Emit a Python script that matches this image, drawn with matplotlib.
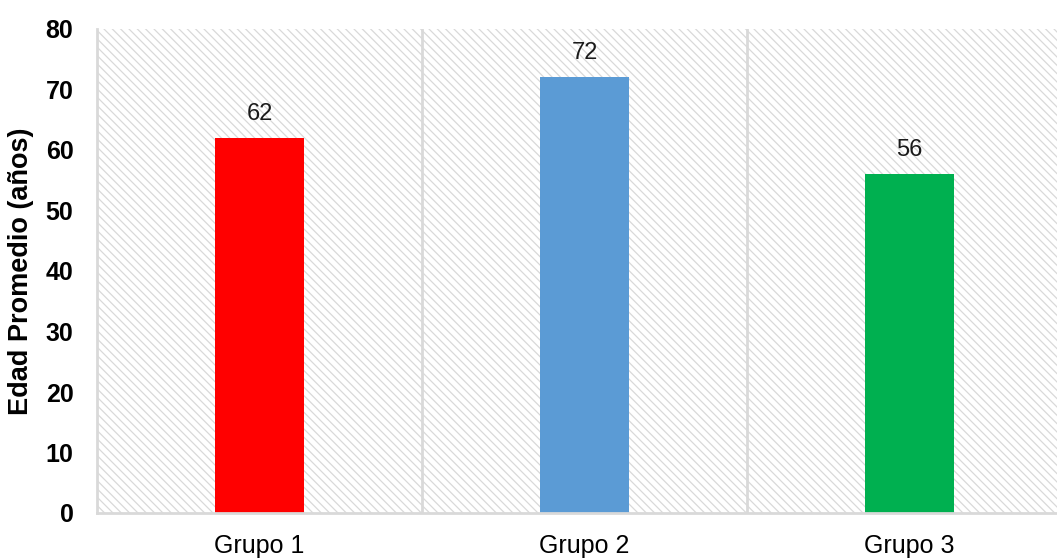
import matplotlib
matplotlib.use("Agg")
import matplotlib.pyplot as plt
import numpy as np

categories = ["Grupo 1", "Grupo 2", "Grupo 3"]
values = [62, 72, 56]
colors = ["#ff0000", "#5b9bd5", "#00b050"]
yticks = [0, 10, 20, 30, 40, 50, 60, 70, 80]

plt.rcParams["font.family"] = ["Liberation Sans", "DejaVu Sans"]
plt.rcParams["hatch.linewidth"] = 0.9
plt.rcParams["hatch.color"] = "#d9d9d9"

W, H = 1057, 559
fig = plt.figure(figsize=(W / 100, H / 100), dpi=100)
left, right, top, bottom = 97, 1072, 29, 513
ax = fig.add_axes([left / W, 1 - bottom / H, (right - left) / W, (bottom - top) / H])

# hatched plot area
ax.patch.set_facecolor("white")
ax.patch.set_hatch("\\\\\\\\")
ax.patch.set_edgecolor("#d9d9d9")
ax.patch.set_linewidth(0)

x = np.arange(len(categories))
bars = ax.bar(x, values, width=0.274, color=colors, zorder=3)
for xi, v in zip(x, values):
    ax.text(xi, v + 2.2, f"{v}", ha="center", va="bottom", fontsize=17, color="#1a1a1a", zorder=4)

ax.set_xlim(-0.5, len(categories) - 0.5)
ax.set_ylim(0, 80)
ax.set_yticks(yticks)
ax.set_yticklabels([str(t) for t in yticks], fontsize=18, fontweight="bold")
ax.set_xticks(x)
ax.set_xticklabels(categories, fontsize=18)
ax.tick_params(axis="both", length=0)
ax.tick_params(axis="y", pad=17)
ax.tick_params(axis="x", pad=15)

# category separators
for b in np.arange(0.5, len(categories) - 0.5, 1.0):
    ax.axvline(b, color="#d9d9d9", lw=2, zorder=2)

for s in ["top", "right"]:
    ax.spines[s].set_visible(False)
ax.spines["left"].set_color("#d9d9d9")
ax.spines["left"].set_linewidth(2)
ax.spines["bottom"].set_color("#d9d9d9")
ax.spines["bottom"].set_linewidth(2)
ax.spines["bottom"].set_zorder(5)

ax.set_ylabel("Edad Promedio (años)", fontsize=19.5, fontweight="bold", labelpad=8)

fig.savefig("out.png", dpi=100)
